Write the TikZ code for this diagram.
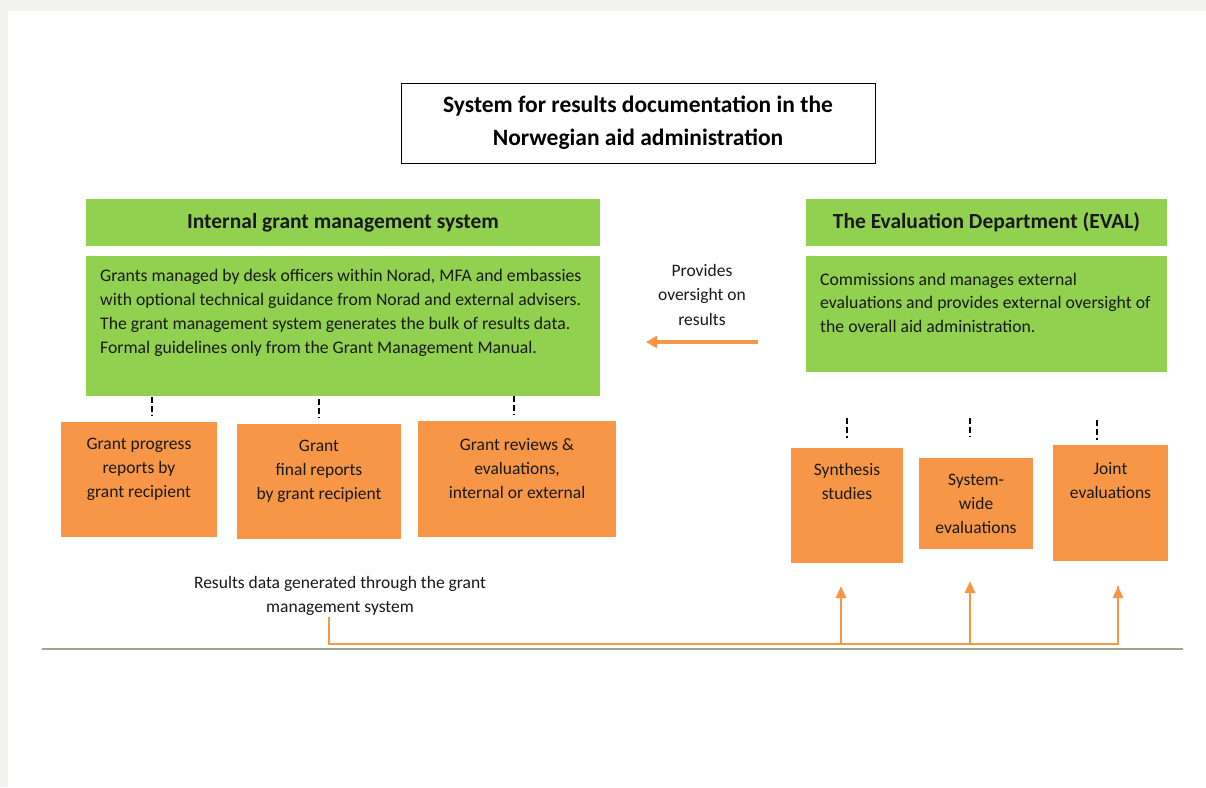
\documentclass[tikz,border=0pt]{standalone}
\usepackage{fontspec}
\setmainfont{Carlito}
\usetikzlibrary{arrows.meta}
\definecolor{bggray}{HTML}{F2F2F0}
\definecolor{lgreen}{HTML}{92D050}
\definecolor{orng}{HTML}{F79646}
\definecolor{rule}{HTML}{A0A58C}
\tikzset{
  px/.style={x=1pt,y=-1pt},
  greenbox/.style={fill=lgreen,draw=none,inner sep=0pt},
  orangebox/.style={fill=orng,draw=none,inner sep=0pt},
  headtxt/.style={font=\fontsize{21.5}{25}\selectfont\bfseries,text=black!90},
  bodytxt/.style={font=\fontsize{17.7}{24}\selectfont,align=left,inner sep=0pt,anchor=north west,text=black!90},
  boxtxt/.style={font=\fontsize{17.5}{24}\selectfont,align=center,inner sep=0pt,anchor=north,text=black!90},
  tick/.style={draw=black,line width=2pt,dash pattern=on 6pt off 3pt},
  oline/.style={draw=orng,line width=2.5pt},
  oarrow/.style={draw=orng,line width=2.5pt,-{Triangle[length=12pt,width=10pt]}},
}
\begin{document}
\begin{tikzpicture}[px]
\useasboundingbox (0,0) rectangle (1206,787);
\fill[bggray] (0,0) rectangle (1206,787);
\fill[white] (8,11) rectangle (1206,787);

% title
\node[draw=black,line width=1pt,minimum width=474pt,minimum height=80pt,inner sep=0pt,
  font=\fontsize{23.5}{33}\selectfont\bfseries,align=center] (title) at (638,123)
  {System for results documentation in the\\Norwegian aid administration};

% left green
\node[greenbox,minimum width=514pt,minimum height=47pt,headtxt] (ighead) at (343,222.5) {Internal grant management system};
\node[greenbox,minimum width=514pt,minimum height=140pt] (igbody) at (343,326) {};
\node[bodytxt] (igtext) at (100,269) {Grants managed by desk officers within Norad, MFA and embassies\\with optional technical guidance from Norad and external advisers.\\The grant management system generates the bulk of results data.\\Formal guidelines only from the Grant Management Manual.};

% right green
\node[greenbox,minimum width=361pt,minimum height=47pt,headtxt] (evhead) at (986.5,222.5) {The Evaluation Department (EVAL)};
\node[greenbox,minimum width=361pt,minimum height=116pt] (evbody) at (986.5,314) {};
\node[bodytxt,font=\fontsize{17.7}{23.5}\selectfont] (evtext) at (820,273) {Commissions and manages external\\evaluations and provides external oversight of\\the overall aid administration.};

% oversight label and arrow
\node[boxtxt,font=\fontsize{17.5}{24.5}\selectfont] (ovl) at (702,264) {Provides\\oversight on\\results};
\coordinate (ovs) at (758,342);
\coordinate (ove) at (646,342);
\draw[draw=orng,line width=3.5pt,-{Triangle[length=11pt,width=12pt]}] (ovs) -- (ove);

% left orange boxes
\node[orangebox,minimum width=156pt,minimum height=115pt] (gp) at (139,479.5) {};
\node[boxtxt] at ([yshift=-16pt]gp.north) {Grant progress\\reports by\\grant recipient};
\node[orangebox,minimum width=164pt,minimum height=115pt] (gf) at (319,481.5) {};
\node[boxtxt] at ([yshift=-16pt]gf.north) {Grant\\final reports\\by grant recipient};
\node[orangebox,minimum width=198pt,minimum height=116pt] (gr) at (517,479) {};
\node[boxtxt] at ([yshift=-17pt]gr.north) {Grant reviews \&\\evaluations,\\internal or external};

% right orange boxes
\node[orangebox,minimum width=112pt,minimum height=115pt] (syn) at (847,505.5) {};
\node[boxtxt] at ([yshift=-15pt]syn.north) {Synthesis\\studies};
\node[orangebox,minimum width=114pt,minimum height=91pt] (sw) at (976,503.5) {};
\node[boxtxt] at ([yshift=-16pt]sw.north) {System-\\wide\\evaluations};
\node[orangebox,minimum width=115pt,minimum height=116pt] (jo) at (1110.5,503) {};
\node[boxtxt] at ([yshift=-17pt]jo.north) {Joint\\evaluations};

% dashed ticks
\draw[tick] (152,397) -- (152,416);
\draw[tick] (319,399) -- (319,418);
\draw[tick] (514,396) -- (514,415);
\draw[tick] (847,418) -- (847,438);
\draw[tick] (970,418) -- (970,437);
\draw[tick] (1097,420) -- (1097,440);

% results label
\node[boxtxt,font=\fontsize{17.5}{24}\selectfont] (res) at (340,576) {Results data generated through the grant\\management system};

% connector
\coordinate (rs) at (329,617);
\coordinate (c1) at (841,644);
\coordinate (c2) at (970,644);
\coordinate (c3) at (1118,644);
\coordinate (t1) at (841,586);
\coordinate (t2) at (970,581);
\coordinate (t3) at (1118,586);
\draw[oline,line join=miter] (rs) |- (c3) -- (t3);
\draw[oarrow] (c1) -- (t1);
\draw[oarrow] (c2) -- (t2);
\draw[oarrow] (c3) -- (t3);

% ground rule
\draw[rule,line width=2.5pt] (42,649) -- (1183,649);
\end{tikzpicture}
\end{document}
